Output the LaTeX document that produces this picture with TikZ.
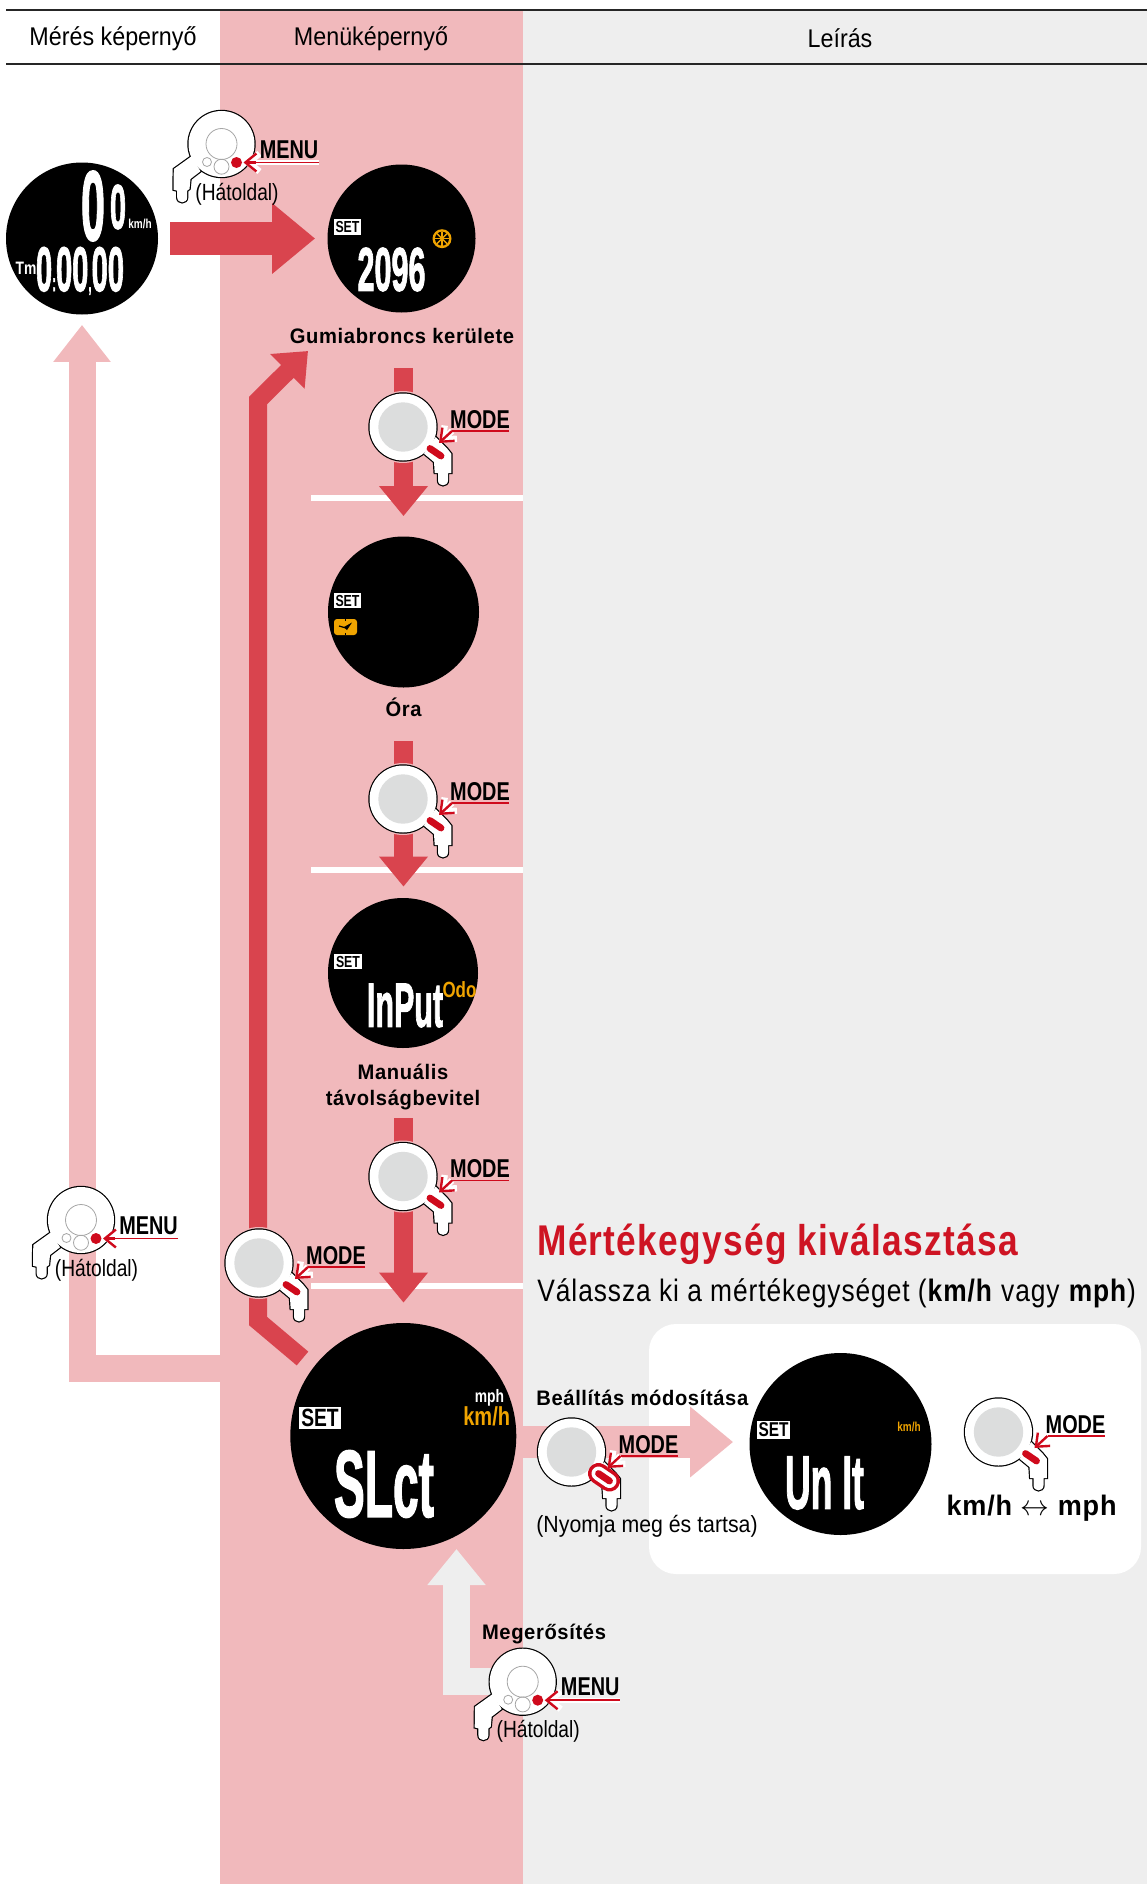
\documentclass[tikz,border=0pt]{standalone}
\usepackage{fontspec}
\usepackage{tikz}
\usetikzlibrary{arrows.meta}
\setmainfont[FakeStretch=0.91]{Liberation Sans}
\newfontfamily\keyfont[FakeStretch=0.77]{Liberation Sans}
\newfontfamily\backfont[FakeStretch=0.82]{Liberation Sans}
\newfontfamily\labelfont[FakeStretch=0.96,LetterSpace=3]{Liberation Sans}
\newfontfamily\titlefont[FakeStretch=0.82,LetterSpace=3]{Liberation Sans}
\newfontfamily\notefont[FakeStretch=0.85,LetterSpace=3]{Liberation Sans}
\newfontfamily\lcdfont[BoldFeatures={FakeBold=2}]{Liberation Sans}
\definecolor{menupink}{HTML}{F1B9BC}
\definecolor{descgray}{HTML}{EEEEEE}
\definecolor{flowred}{HTML}{D9444E}
\definecolor{keyred}{HTML}{CF0A1C}
\definecolor{titlered}{HTML}{CE1423}
\definecolor{lcdorange}{HTML}{F0A400}
\definecolor{discgray}{HTML}{DCDDDD}
\tikzset{
	headtext/.style={inner sep=0pt,font=\fontsize{12.8pt}{15pt}\selectfont},
	keylabel/.style={inner sep=0pt,font=\keyfont\bfseries\fontsize{12.9pt}{15pt}\selectfont},
	backlabel/.style={inner sep=0pt,font=\backfont\fontsize{11.7pt}{14pt}\selectfont},
	steplabel/.style={inner sep=0pt,align=center,font=\labelfont\bfseries\fontsize{10.5pt}{13.3pt}\selectfont},
	plainlabel/.style={inner sep=0pt,anchor=west,font=\fontsize{11.7pt}{14pt}\selectfont},
	display/.style={circle,fill=black,inner sep=0pt,minimum size=#1},
	readout/.style={inner sep=0pt,text=white},
	setbadge/.style={fill=white,text=black,inner sep=1pt,font=\keyfont\bfseries\fontsize{#1}{#1}\selectfont},
	lcdsmall/.style={inner sep=0pt,text=#1,font=\keyfont\bfseries\fontsize{6.5pt}{7pt}\selectfont},
	lcdmid/.style={inner sep=0pt,text=#1,font=\keyfont\bfseries\fontsize{13pt}{14pt}\selectfont},
	flowline/.style={draw=flowred,line width=9.5pt,-{Triangle[length=15pt,width=23.5pt]}},
	wideflow/.style={draw=flowred,line width=16.5pt,-{Triangle[length=21.5pt,width=34pt]}},
	paleflow/.style={draw=menupink,line width=13.5pt,-{Triangle[length=18.5pt,width=27.5pt]}},
	setflow/.style={draw=menupink,line width=16pt,-{Triangle[length=21.5pt,width=34pt]}},
	confirmflow/.style={draw=descgray,line width=13.5pt,-{Triangle[length=18pt,width=28pt]}},
	loopflow/.style={draw=flowred,line width=9pt,-{Triangle[length=14.5pt,width=23.5pt]}},
	keyline/.style={draw=black,line width=1.2pt},
	keydot/.style={draw=black!35,line width=0.4pt},
	keyhalo/.style={fill=menupink},
	keypill/.style={draw=keyred,line width=3.4pt,line cap=round},
	leaderglow/.style={draw=white,line width=3.2pt,-{Straight Barb[length=5.5pt,width=9pt]}},
	leader/.style={draw=keyred,line width=1.2pt,-{Straight Barb[length=5.5pt,width=9pt]}},
	sepline/.style={draw=white,line width=2.7pt},
	headline/.style={draw=black!85,line width=0.75pt}
}
\newcommand{\lcdtext}[3]{\resizebox{#1pt}{#2pt}{\lcdfont\bfseries #3}}
\newcommand{\lcdmark}[1]{{\fontsize{4pt}{4pt}\selectfont #1}}
\newcommand{\modehandle}{(21,26.7) -- (31,35) -- (31.7,46) -- (35,46) -- (35,53.3) .. controls (35,60) and (45,60) .. (45,53.3) -- (45,46) -- (48.3,46) -- (48.3,26.7) -- (44.3,21.7) -- (32.7,10) -- cycle}
\newcommand{\menutail}{(-30,12.3) -- (-47.7,25) -- (-48,45.7) -- (-44.3,46.7) -- (-44.3,53.3) .. controls (-44.3,60) and (-34.3,60) .. (-34.3,53.3) -- (-34.3,46.7) -- (-32,45) -- (-31,35) -- (-21,27.3) -- cycle}
\newcommand{\modebody}{
	\draw[keyline] (0,0) circle (33.5);
	\draw[keyline] \modehandle;
	\fill[white] (0,0) circle (33.5);
	\fill[white] \modehandle;
	\fill[discgray] (0,0) circle (24.7);
}
\newcommand{\modeleader}[1]{
	\draw[keypill] (27,21.5) -- (38,29);
	\draw[leaderglow] (49,4) -- (36,16);
	\draw[draw=keyred,line width=0.9pt] (106,4) -- (49,4);
	\draw[leader] (49,4) -- (36,16);
	\path (77,-7.5) node[keylabel] (#1) {MODE};
}
\newcommand{\modekey}[3]{
	\begin{scope}[shift={(#2,#3)}]
		\modebody
		\modeleader{#1}
	\end{scope}
}
\newcommand{\holdkey}[3]{
	\begin{scope}[shift={(#2,#3)}]
		\modebody
		\draw[draw=keyred,line width=10.5pt,line cap=round] (27,21.5) -- (38,29);
		\draw[draw=white,line width=7pt,line cap=round] (27,21.5) -- (38,29);
		\modeleader{#1}
	\end{scope}
}
\newcommand{\menukey}[3]{
	\begin{scope}[shift={(#2,#3)}]
		\draw[keyline] (0,0) circle (33);
		\draw[keyline] \menutail;
		\fill[white] (0,0) circle (33);
		\fill[white] \menutail;
		\draw[keydot] (0,0) circle (15.5);
		\draw[keydot] (-14.5,18) circle (4.5);
		\draw[keydot] (0,22.7) circle (7.5);
		\fill[keyred] (15,18.5) circle (5.5);
		\draw[draw=white,line width=2.4pt] (97,18.5) -- (23,18.5);
		\draw[draw=keyred,line width=0.9pt] (97,18.5) -- (23,18.5);
		\draw[leaderglow] (34,18.5) -- (22,18.5);
		\draw[leader] (34,18.5) -- (22,18.5);
		\path (67.5,5.5) node[keylabel] (#1) {MENU};
		\path (15.5,50) node[backlabel] (#1back) {(Hátoldal)};
	\end{scope}
}
\begin{document}
\begin{tikzpicture}[x=0.5pt,y=-0.5pt]
	\useasboundingbox (0,0) rectangle (1147,1884);
	\fill[menupink] (220,10) rectangle (523,1884);
	\fill[descgray] (523,10) rectangle (1147,1884);
	\draw[headline] (6,10) -- (1147,10);
	\draw[headline] (6,64) -- (1147,64);
	\path (113,39) node[headtext] (meashead) {Mérés képernyő};
	\path (371,39) node[headtext] (menuhead) {Menüképernyő};
	\path (840,38) node[headtext] (deschead) {Leírás};
	\fill[white,rounded corners=13.5pt] (649,1324) rectangle (1141,1574);
	\draw[sepline] (311,498) -- (523,498);
	\draw[sepline] (311,870) -- (523,870);
	\draw[sepline] (311,1286) -- (523,1286);
	\path (82,238.5) node[display=76pt] (measure) {};
	\path (401.5,238.5) node[display=74pt] (wheel) {};
	\path (403.5,612) node[display=75.5pt] (clock) {};
	\path (403,973) node[display=75pt] (input) {};
	\path (403.3,1436) node[display=113pt] (slct) {};
	\path (840.5,1444) node[display=91pt] (unit) {};
	\coordinate (backstart) at (220,1368.5);
	\coordinate (flowa) at (403.5,368);
	\coordinate (flowb) at (403.5,741);
	\coordinate (flowc) at (403.5,1118);
	\coordinate (setstart) at (518,1442);
	\coordinate (confirmstart) at (505,1681.5);
	\coordinate (confirmtip) at (456.5,1549);
	\coordinate (loopfoot) at (302.5,1358.5);
	\coordinate (loopbendb) at (258,1321);
	\coordinate (loopbenda) at (258,400.5);
	\coordinate (looptip) at (308,351);
	\draw[wideflow,shorten <=6pt,shorten >=6pt] (measure.east) -- (wheel.west);
	\draw[paleflow,shorten >=5pt] (backstart) -| (measure.south);
	\draw[loopflow] (loopfoot) -- (loopbendb) -- (loopbenda) -- (looptip);
	\draw[flowline,shorten >=10pt] (flowa) -- (flowa |- clock.north);
	\draw[flowline,shorten >=5.5pt] (flowb) -- (flowb |- input.north);
	\draw[flowline,shorten >=10pt] (flowc) -- (flowc |- slct.north);
	\draw[setflow,shorten >=8pt] (setstart) -- (setstart -| unit.west);
	\draw[confirmflow] (confirmstart) -| (confirmtip);
	\fill[keyhalo] (403,427) circle (36);
	\fill[keyhalo] (403,799) circle (36);
	\fill[keyhalo] (403,1176.5) circle (36);
	\fill[keyhalo] (259,1263) circle (36);
	\modekey{modea}{403}{427}
	\modekey{modeb}{403}{799}
	\modekey{modec}{403}{1176.5}
	\modekey{moded}{259}{1263}
	\holdkey{modehold}{571.5}{1452}
	\modekey{modeunit}{998.5}{1432}
	\menukey{menua}{221.5}{144}
	\menukey{menub}{81}{1220}
	\menukey{menuc}{522.7}{1681.7}
	\path (402,336) node[steplabel] (wheellabel) {Gumiabroncs kerülete};
	\path (403.5,707) node[steplabel] (clocklabel) {Óra};
	\path (403,1087) node[steplabel] (inputlabel) {Manuális\\távolságbevitel};
	\path (544,1634) node[steplabel] (confirmlabel) {Megerősítés};
	\path (536,1398) node[steplabel,anchor=west] (setlabel) {Beállítás módosítása};
	\path (536,1526) node[plainlabel] (holdlabel) {(Nyomja meg és tartsa)};
	\path (537,1244.5) node[anchor=west,inner sep=0pt,text=titlered,font=\titlefont\bfseries\fontsize{21.5pt}{24pt}\selectfont] (unittitle) {Mértékegység kiválasztása};
	\path (537,1293) node[anchor=west,inner sep=0pt,font=\notefont\fontsize{15.5pt}{18pt}\selectfont] (unitnote) {Válassza ki a mértékegységet (\textbf{km/h} vagy \textbf{mph})};
	\path (1031.6,1508) node[inner sep=0pt,font=\labelfont\bfseries\fontsize{14.1pt}{16pt}\selectfont] (swaplabel) {km/h $\leftrightarrow$ mph};
	\path (93,206) node[readout] (speedbig) {\lcdtext{12}{34.5}{0}};
	\path (118,207) node[readout] (speedsmall) {\lcdtext{8}{22}{0}};
	\path (140,224) node[lcdsmall=white] (speedunit) {km/h};
	\path (26,268) node[inner sep=0pt,text=white,font=\keyfont\bfseries\fontsize{9pt}{10pt}\selectfont] (tmlabel) {Tm};
	\path (80,271) node[readout] (tmvalue) {\lcdtext{44}{22}{0\lcdmark{:}00\lcdmark{,}00}};
	\path (347.5,227) node[setbadge=8pt] (seta) {SET};
	\path (391.5,269.5) node[readout] (wheelvalue) {\lcdtext{34}{21.5}{2096}};
	\fill[lcdorange] (442,238.7) circle (9.5);
	\fill[black] (442,238.7) circle (7);
	\draw[lcdorange,line width=0.7pt] (435,238.7) -- (449,238.7);
	\draw[lcdorange,line width=0.7pt] (442,231.7) -- (442,245.7);
	\draw[lcdorange,line width=0.7pt] (437,233.7) -- (447,243.7);
	\draw[lcdorange,line width=0.7pt] (447,233.7) -- (437,243.7);
	\path (347.5,600.5) node[setbadge=8pt] (setb) {SET};
	\fill[lcdorange,rounded corners=1.5pt] (334,619) rectangle (357,635);
	\fill[black] (352,622.5) -- (344,627) -- (347,630) -- cycle;
	\draw[black,line width=0.6pt] (346,628) -- (339,626);
	\draw[black,line width=0.5pt] (345.5,619) -- (345.5,621);
	\draw[black,line width=0.5pt] (345.5,633) -- (345.5,635);
	\path (348,961.5) node[setbadge=8pt] (setc) {SET};
	\path (405,1005.5) node[readout] (inputvalue) {\lcdtext{38}{21.5}{InPut}};
	\path (459.5,990) node[inner sep=0pt,text=lcdorange,font=\keyfont\bfseries\fontsize{11pt}{14pt}\selectfont] (odolabel) {Odo};
	\path (320,1418) node[setbadge=12.5pt] (setd) {SET};
	\path (489.5,1398) node[lcdsmall=white,font=\keyfont\bfseries\fontsize{9pt}{9pt}\selectfont] (mphlabel) {mph};
	\path (486.7,1416.7) node[lcdmid=lcdorange] (kmhlabel) {km/h};
	\path (384,1484) node[readout] (slctvalue) {\lcdtext{50}{33}{SLct}};
	\path (773.5,1430) node[setbadge=10pt] (sete) {SET};
	\path (909,1426.7) node[lcdsmall=lcdorange] (unitkmh) {km/h};
	\path (824.5,1483) node[readout] (unitvalue) {\lcdtext{39.5}{26}{Un It}};
\end{tikzpicture}
\end{document}
